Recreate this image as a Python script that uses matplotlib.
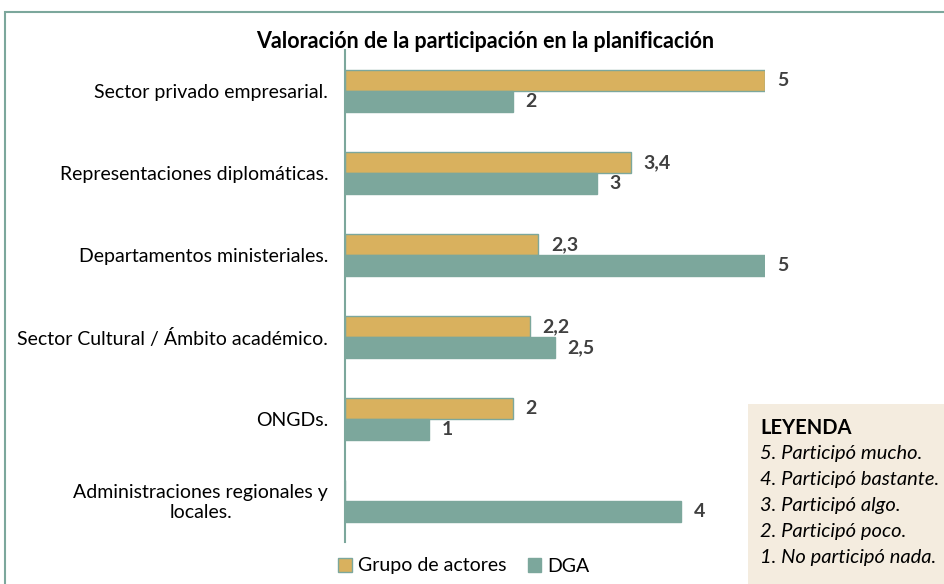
import numpy as np
import matplotlib.pyplot as plt
from matplotlib.patches import Rectangle, Patch

plt.rcParams["font.family"] = ["Lato", "DejaVu Sans"]

categories = [
    "Sector privado empresarial.",
    "Representaciones diplomáticas.",
    "Departamentos ministeriales.",
    "Sector Cultural / Ámbito académico.",
    "ONGDs.",
    "Administraciones regionales y\nlocales.",
]
grupo = [5, 3.4, 2.3, 2.2, 2, None]
dga = [2, 3, 5, 2.5, 1, 4]
leyenda = [
    "5. Participó mucho.",
    "4. Participó bastante.",
    "3. Participó algo.",
    "2. Participó poco.",
    "1. No participó nada.",
]

YELLOW = "#D9B15E"
TEAL = "#7CA79C"
LABEL = "#404040"


def fmt(v):
    return ("%g" % v).replace(".", ",")


fig = plt.figure(figsize=(9.45, 5.84), dpi=100)
ax = fig.add_axes([345 / 945, 1 - 542 / 584, 420 / 945, 492 / 584])

y = np.arange(len(categories))
h = 0.26
g_vals = [v if v is not None else 0 for v in grupo]
ax.barh(y - h / 2, g_vals, height=h, color=YELLOW, edgecolor=TEAL, linewidth=1)
ax.barh(y + h / 2, dga, height=h, color=TEAL, edgecolor=TEAL, linewidth=1)

# value labels
for i, v in enumerate(grupo):
    if v is not None:
        ax.text(v + 0.15, y[i] - h / 2, fmt(v), va="center", ha="left",
                fontsize=14, fontweight="bold", color=LABEL, clip_on=False)
for i, v in enumerate(dga):
    ax.text(v + 0.15, y[i] + h / 2, fmt(v), va="center", ha="left",
            fontsize=14, fontweight="bold", color=LABEL, clip_on=False)

ax.set_xlim(0, 5)
ax.set_ylim(len(categories) - 0.5, -0.5)
ax.set_xticks([])
ax.set_yticks([])
for s in ["top", "right", "bottom"]:
    ax.spines[s].set_visible(False)
ax.spines["left"].set_color(TEAL)
ax.spines["left"].set_linewidth(1.5)

# category labels
for i, c in enumerate(categories):
    ax.text(-0.2, y[i] + 0.02, c, ha="right", va="center", fontsize=14,
            color="black", multialignment="center", clip_on=False,
            linespacing=1.25)

# chart frame
fig.patches.append(Rectangle((5 / 945, -0.1), 1.0, 1 - 12 / 584 + 0.1,
                             transform=fig.transFigure, fill=False,
                             edgecolor=TEAL, linewidth=1.5, zorder=0))

fig.text(485 / 945, 1 - 42 / 584, "Valoración de la participación en la planificación",
         ha="center", va="center", fontsize=15.5, fontweight="bold")

# leyenda box
fig.patches.append(Rectangle((748 / 945, 0), 200 / 945, 180 / 584,
                             transform=fig.transFigure, facecolor="#F4ECDF",
                             edgecolor="none", zorder=1))
fig.text(760 / 945, 1 - 428 / 584, "LEYENDA", ha="left", va="center",
         fontsize=14.5, fontweight="bold", zorder=2)
for k, t in enumerate(leyenda):
    fig.text(760 / 945, 1 - (453 + 26 * k) / 584, t, ha="left", va="center",
             fontsize=14.5, fontstyle="italic", zorder=2)

handles = [Patch(facecolor=YELLOW, edgecolor=TEAL), Patch(facecolor=TEAL, edgecolor=TEAL)]
fig.legend(handles, ["Grupo de actores", "DGA"], loc="center",
           bbox_to_anchor=(464 / 945, 1 - 566 / 584), ncol=2, frameon=False,
           fontsize=14, handlelength=0.7, handleheight=0.7, handletextpad=0.3,
           columnspacing=1.1)

fig.savefig("out.png", dpi=100)
